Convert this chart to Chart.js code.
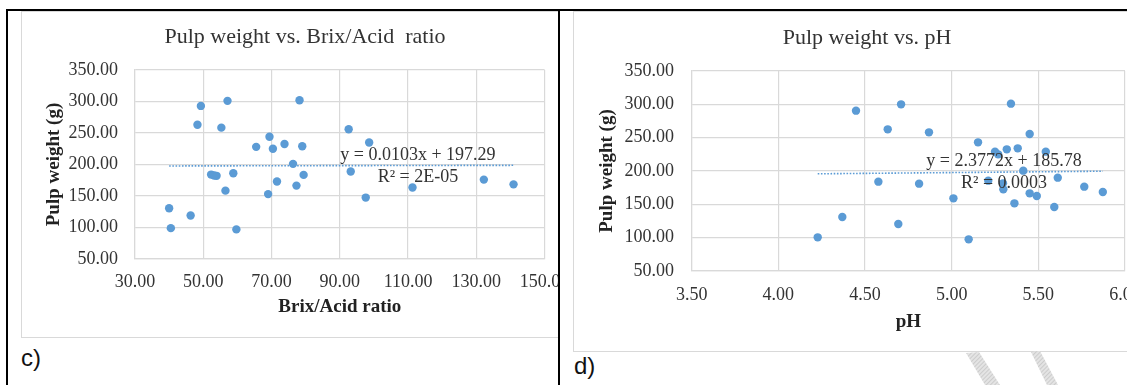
<!DOCTYPE html>
<html>
<head>
<meta charset="utf-8">
<script src="https://cdn.jsdelivr.net/npm/chart.js@4/dist/chart.umd.min.js"></script>
<style>
  body { margin: 0; background: #fff; width: 1127px; height: 385px; overflow: hidden; position: relative; }
  .panel { position: absolute; top: 11px; height: 374px; overflow: hidden; }
  .frame { position: absolute; border: 1px solid #d9d9d9; box-sizing: border-box; }
  .panel canvas { position: absolute; }
  .tag { position: absolute; font-family: "Liberation Sans", Arial, sans-serif; font-size: 24px; color: #111; line-height: 24px; }
  .rule { position: absolute; background: #000; }
</style>
</head>
<body>
<div class="rule" style="left:6px;top:9px;width:1121px;height:2px"></div>
<div class="rule" style="left:6px;top:9px;width:2px;height:376px"></div>
<div class="rule" style="left:558px;top:9px;width:2px;height:376px"></div>

<div class="panel" style="left:8px;width:550px">
  <div class="frame" style="left:13px;top:0;width:600px;height:327px"></div>
  <canvas id="chartC" width="566" height="325" style="left:14px;top:1px"></canvas>
  <div class="tag" style="left:13px;top:335px">c)</div>
</div>

<div class="panel" style="left:560px;width:567px">
  <div class="frame" style="left:13px;top:0;width:620px;height:341px"></div>
  <canvas id="chartD" width="588" height="339" style="left:13px;top:1px"></canvas>
  <div class="tag" style="left:14px;top:343px">d)</div>
</div>

<svg style="position:absolute;left:0;top:0" width="1127" height="385">
  <defs>
    <pattern id="hatch" width="3" height="3" patternUnits="userSpaceOnUse" patternTransform="rotate(45)">
      <rect width="3" height="3" fill="#e4e4e4"/>
      <line x1="0" y1="0" x2="0" y2="3" stroke="#bdbdbd" stroke-width="1.2"/>
    </pattern>
  </defs>
  <polygon points="966,353 979,352 1000,385 985,385" fill="url(#hatch)"/>
  <polygon points="1031,352 1040,351 1058,385 1047,385" fill="url(#hatch)"/>
</svg>

<script>
// c) pulp weight vs brix/acid ratio
const brixAcid = [40.0, 40.5, 46.3, 48.3, 49.3, 52.3, 53.2, 53.9, 55.3, 56.5,
  57.1, 58.8, 59.7, 65.5, 69.0, 69.4, 70.4, 71.6, 73.8, 76.3,
  77.3, 78.2, 79.0, 79.4, 92.6, 93.2, 97.6, 98.6, 111.3, 132.2, 140.9];
const weightC = [130.5, 99, 119, 263, 293, 184, 182.5, 182, 258.5, 158.5,
  301, 186, 97, 228, 153, 244, 225, 173, 232.5, 201,
  166.5, 302, 229, 183.5, 256, 189, 147.5, 235, 163.5, 176, 168.5];
const trendCx = [40.0, 140.9];
const trendCy = [197.7, 198.7];
const eqC = ['y = 0.0103x + 197.29', 'R\u00b2 = 2E-05'];

// d) pulp weight vs pH
const pH = [4.227, 4.369, 4.448, 4.577, 4.631, 4.692, 4.708, 4.812, 4.869, 5.010,
  5.098, 5.152, 5.211, 5.250, 5.268, 5.296, 5.298, 5.318, 5.342, 5.362,
  5.381, 5.413, 5.450, 5.450, 5.491, 5.543, 5.592, 5.612, 5.765, 5.872];
const weightD = [100.5, 131, 290.5, 184, 262.5, 120.5, 300, 181, 258, 159,
  97.5, 243, 185.5, 229, 225, 181.5, 172.5, 232.5, 301, 151.5,
  234, 200.5, 255.5, 166.5, 162.5, 229, 146, 190, 176.5, 168.5];
const trendDx = [4.227, 5.872];
const trendDy = [195.8, 199.7];
const eqD = ['y = 2.3772x + 185.78', 'R\u00b2 = 0.0003'];

const serif = 'Liberation Serif, Times New Roman, serif';
const blue = '#5b9bd5';
const gridGrey = '#d9d9d9';

// writes the trendline equation at a spot given in data units
const eqLabel = {
  id: 'eqLabel',
  afterDatasetsDraw(chart, args, opts) {
    const {ctx, scales: {x, y}} = chart;
    ctx.save();
    ctx.font = '18px ' + serif;
    ctx.fillStyle = '#333';
    ctx.textAlign = 'center';
    ctx.textBaseline = 'middle';
    opts.lines.forEach((t, i) => {
      ctx.fillText(t, x.getPixelForValue(opts.at[i][0]), y.getPixelForValue(opts.at[i][1]));
    });
    ctx.restore();
  }
};

// excel centres the title on the whole chart box, not the padded one
const wideTitle = {
  id: 'wideTitle',
  afterLayout(chart) {
    const tb = chart.titleBlock;
    if (!tb) return;
    tb.left = 0;
    tb.right = chart.width;
    tb.width = chart.width;
  }
};

function makeChart(id, xs, ys, tx, ty, cfg) {
  return new Chart(document.getElementById(id), {
    type: 'scatter',
    data: {
      datasets: [
        {
          data: xs.map((v, i) => ({x: v, y: ys[i]})),
          backgroundColor: blue,
          borderColor: blue,
          borderWidth: 0,
          pointRadius: 4.2
        },
        {
          type: 'line',
          data: tx.map((v, i) => ({x: v, y: ty[i]})),
          borderColor: blue,
          borderWidth: 1.6,
          borderDash: [1.6, 1.6],
          pointRadius: 0,
          fill: false
        }
      ]
    },
    options: {
      responsive: false,
      animation: false,
      layout: {padding: {left: 0, right: cfg.padRight, top: 0, bottom: 0}},
      plugins: {
        legend: {display: false},
        tooltip: {enabled: false},
        title: {
          display: true,
          text: cfg.title,
          color: '#333',
          font: {family: serif, size: 22, weight: 'normal'},
          padding: {top: cfg.titleTop, bottom: cfg.titleBottom}
        },
        eqLabel: {lines: cfg.eq, at: cfg.eqAt}
      },
      scales: {
        x: {
          type: 'linear',
          min: cfg.xMin,
          max: cfg.xMax,
          grid: {color: gridGrey, lineWidth: 1.2, drawTicks: false},
          border: {color: gridGrey, width: 1.2},
          ticks: {
            stepSize: cfg.xStep,
            padding: cfg.xTickPad,
            color: '#333',
            font: {family: serif, size: 18},
            callback: v => v.toFixed(2)
          },
          title: {
            display: true,
            text: cfg.xTitle,
            color: '#222',
            font: {family: serif, size: 19, weight: 'bold'},
            padding: {top: 0, bottom: cfg.xTitlePad}
          },
          afterFit(s) { s.height = cfg.xHeight; s.paddingLeft = 0; s.paddingRight = 0; }
        },
        y: {
          min: 50,
          max: 350,
          grid: {color: gridGrey, lineWidth: 1.2, drawTicks: false},
          border: {color: gridGrey, width: 1.2},
          ticks: {
            stepSize: 50,
            padding: cfg.yTickPad,
            color: '#333',
            font: {family: serif, size: 18},
            callback: v => v.toFixed(2)
          },
          title: {
            display: true,
            text: 'Pulp weight (g)',
            color: '#222',
            font: {family: serif, size: 19, weight: 'bold'},
            padding: {top: cfg.yTitlePad, bottom: 0}
          },
          afterFit(s) { s.width = cfg.yWidth; s.paddingTop = 0; s.paddingBottom = 0; }
        }
      }
    },
    plugins: [eqLabel, wideTitle]
  });
}

makeChart('chartC', brixAcid, weightC, trendCx, trendCy, {
  title: 'Pulp weight vs. Brix/Acid  ratio',
  xTitle: 'Brix/Acid ratio',
  xMin: 30, xMax: 150, xStep: 20,
  eq: eqC, eqAt: [[112.9, 215], [112.9, 180]],
  padRight: 43.4, titleTop: 11.8, titleBottom: 19.8,
  xHeight: 78, xTickPad: 12.2, xTitlePad: 18.6,
  yWidth: 113, yTickPad: 17, yTitlePad: 20.2
});

makeChart('chartD', pH, weightD, trendDx, trendDy, {
  title: 'Pulp weight vs. pH',
  xTitle: 'pH',
  xMin: 3.5, xMax: 6.0, xStep: 0.5,
  eq: eqD, eqAt: [[5.302, 215], [5.302, 182]],
  padRight: 36, titleTop: 12.8, titleBottom: 19.8,
  xHeight: 80, xTickPad: 13.2, xTitlePad: 17.6,
  yWidth: 118.7, yTickPad: 17.7, yTitlePad: 22.6
});
</script>
</body>
</html>
